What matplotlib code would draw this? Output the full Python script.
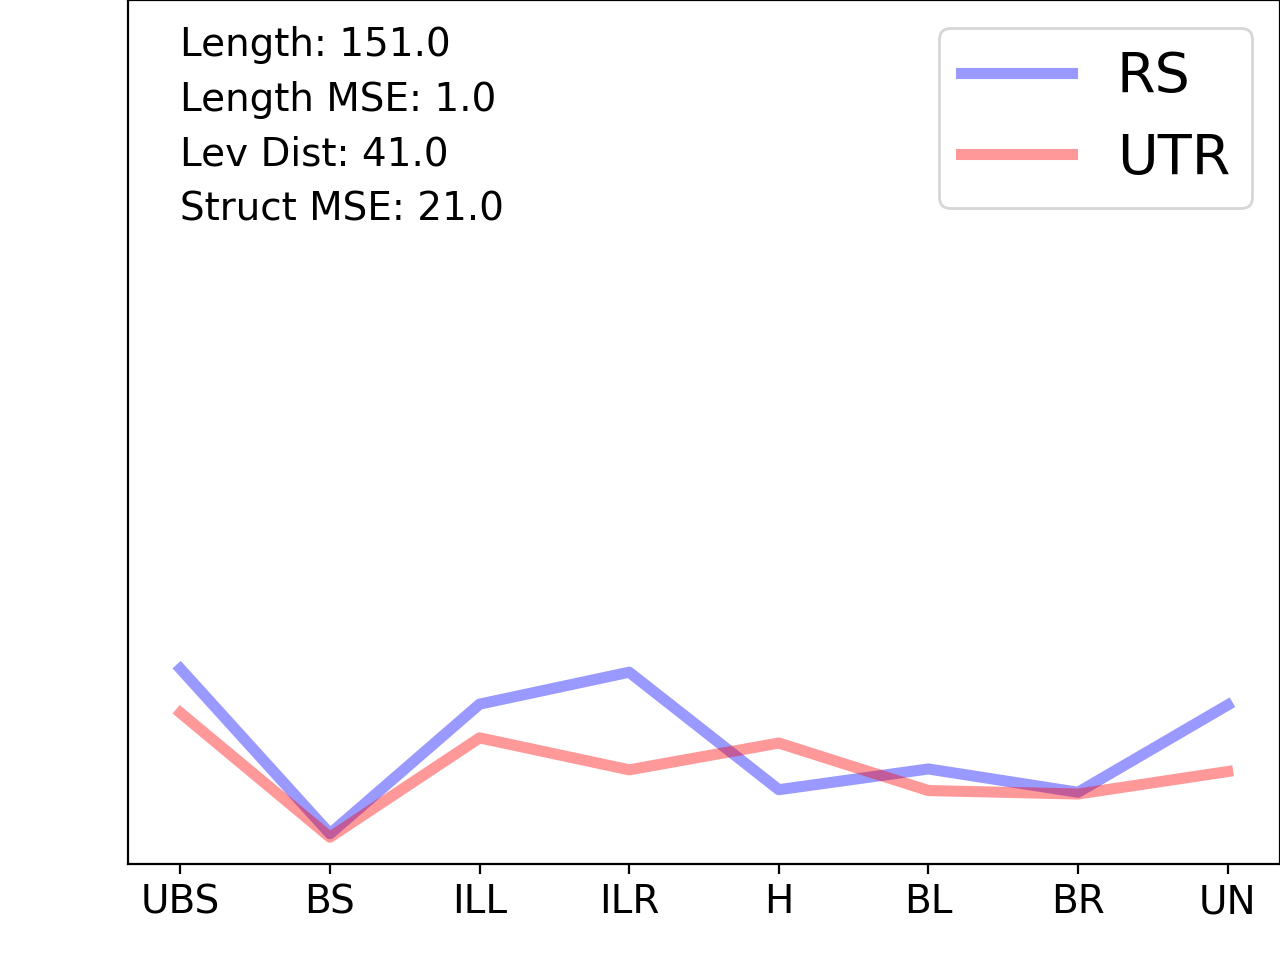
import numpy as np
import matplotlib
matplotlib.use("Agg")
import matplotlib.pyplot as plt

# categorias e valores
categorias = ["UBS", "BS", "ILL", "ILR", "H", "BL", "BR", "UN"]
valores_rs = [0.226, 0.035, 0.185, 0.222, 0.086, 0.110, 0.083, 0.184]
valores_utr = [0.175, 0.031, 0.146, 0.109, 0.140, 0.085, 0.081, 0.107]

# metricas mostradas no canto
metricas = ["Length: 151.0", "Length MSE: 1.0", "Lev Dist: 41.0", "Struct MSE: 21.0"]

fig = plt.figure(figsize=(6.4, 4.8), dpi=200)
ax = fig.add_axes([0.1, 0.1, 0.9, 0.9])

x = np.arange(len(categorias))
ax.plot(x, valores_rs, color="blue", alpha=0.4, linewidth=4, label="RS")
ax.plot(x, valores_utr, color="red", alpha=0.4, linewidth=4, label="UTR")

ax.set_ylim(0, 1)
ax.set_yticks([])
ax.set_xticks(x)
ax.set_xticklabels(categorias, fontsize=14)

ax.text(0.045, 0.970, "\n".join(metricas), transform=ax.transAxes,
        fontsize=14, va="top", ha="left", linespacing=1.56)

ax.legend(loc="upper right", fontsize=20)

fig.savefig("out.png", dpi=200)
